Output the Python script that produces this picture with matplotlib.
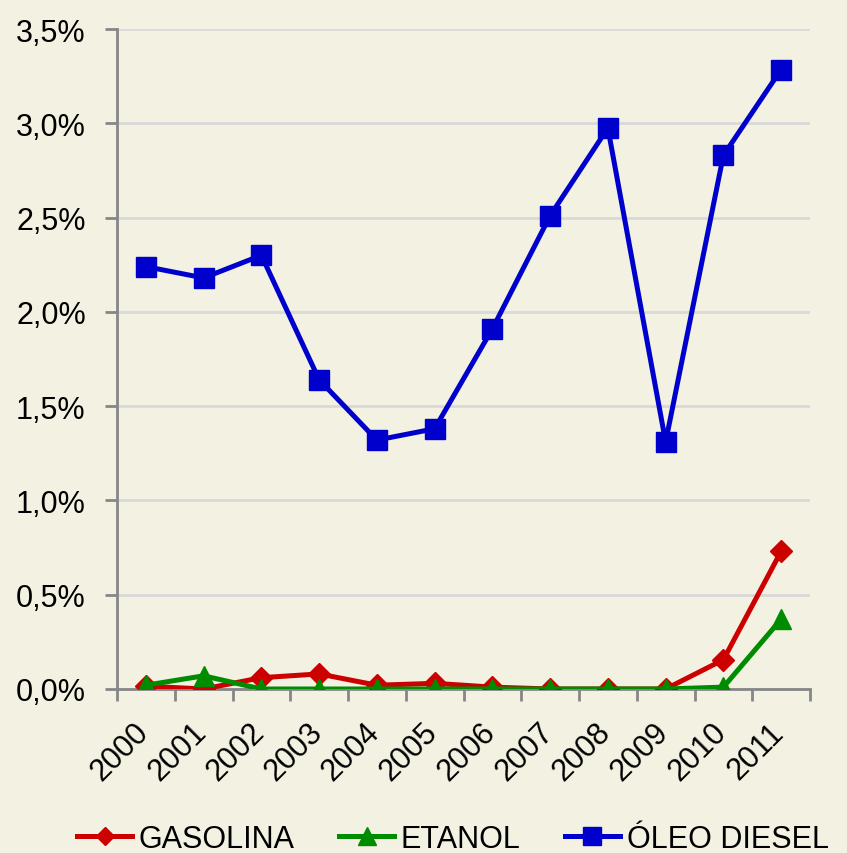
import matplotlib
matplotlib.use("Agg")
import matplotlib.pyplot as plt
from matplotlib.ticker import FuncFormatter, MultipleLocator
from matplotlib.transforms import ScaledTranslation
import numpy as np

years = ["2000", "2001", "2002", "2003", "2004", "2005", "2006", "2007", "2008", "2009", "2010", "2011"]
gasolina = [0.015, 0.0, 0.06, 0.08, 0.02, 0.03, 0.01, 0.0, 0.0, 0.0, 0.155, 0.73]
etanol = [0.02, 0.07, 0.0, 0.0, 0.0, 0.0, 0.0, 0.0, 0.0, 0.0, 0.01, 0.37]
diesel = [2.24, 2.18, 2.30, 1.64, 1.32, 1.38, 1.91, 2.51, 2.975, 1.31, 2.83, 3.285]

plt.rcParams['font.family'] = ['Liberation Sans', 'DejaVu Sans']
bg = '#F3F1E1'
fig = plt.figure(figsize=(8.47, 8.54), dpi=100, facecolor=bg)
ax = fig.add_axes([117/847, 1-690/854, (810-117)/847, (690-30)/854])
ax.set_facecolor(bg)

x = np.arange(len(years))
ax.plot(x, gasolina, color='#CC0000', lw=3.6, marker='D', ms=11, label='GASOLINA', zorder=3)
ax.plot(x, etanol, color='#008C00', lw=3.6, marker='^', ms=15, label='ETANOL', zorder=3)
ax.plot(x, diesel, color='#0000CC', lw=3.6, marker='s', ms=15, label='ÓLEO DIESEL', zorder=4)

ax.set_xlim(-0.5, len(years)-0.5)
ax.set_ylim(0, 3.5)
ax.yaxis.set_major_locator(MultipleLocator(0.5))
ax.yaxis.set_major_formatter(FuncFormatter(lambda v, p: f"{v:.1f}%".replace('.', ',')))
ax.grid(axis='y', color='#D9D9D9', lw=2)
ax.set_axisbelow(True)

ax.set_xticks(np.arange(-0.5, len(years), 1.0))
ax.set_xticklabels([])
ax.set_xticks(x, minor=True)
ax.set_xticklabels(years, minor=True, rotation=45, ha='right', va='top', rotation_mode='anchor', fontsize=22)
ax.tick_params(axis='x', which='minor', length=0, pad=20)
ax.tick_params(axis='x', which='major', length=8.5, width=2, color='#868686', direction='out')
ax.tick_params(axis='y', length=8.5, width=2, color='#868686', labelsize=22, pad=14)
off = ScaledTranslation(-12/100, 0, fig.dpi_scale_trans)
for lbl in ax.get_xticklabels(minor=True):
    lbl.set_transform(lbl.get_transform() + off)

for s in ['top', 'right']:
    ax.spines[s].set_visible(False)
for s in ['left', 'bottom']:
    ax.spines[s].set_color('#868686')
    ax.spines[s].set_linewidth(2)

leg = fig.legend(loc='center left', bbox_to_anchor=(77/847, 1-840/854), ncol=3, frameon=False,
                 fontsize=22, handlelength=1.8, handletextpad=0.22, columnspacing=1.45,
                 markerscale=0.85, borderpad=0, borderaxespad=0)

fig.savefig('out.png', dpi=100, facecolor=bg)
